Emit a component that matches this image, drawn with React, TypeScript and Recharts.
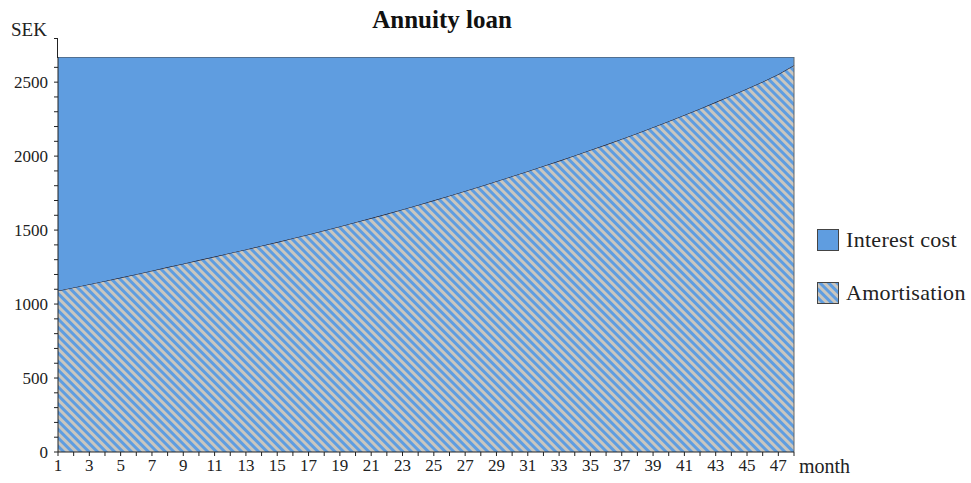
import { AreaChart, Area, XAxis, YAxis, ReferenceLine } from 'recharts'

const MONTHS = Array.from({ length: 48 }, (_, i) => i + 1)

// amortisation per month (SEK)
const AMORTISATION = [
    1090, 1112, 1134, 1156, 1179, 1202, 1226, 1250, 1273, 1297, 1321, 1345,
    1369, 1394, 1419, 1445, 1471, 1498, 1525, 1553, 1581, 1610, 1640, 1670,
    1701, 1732, 1764, 1797, 1830, 1864, 1898, 1933, 1968, 2004, 2041, 2078,
    2116, 2155, 2195, 2236, 2278, 2321, 2365, 2410, 2456, 2503, 2553, 2615,
]

// interest cost per month (SEK)
const INTEREST = [
    1580, 1558, 1536, 1514, 1491, 1468, 1444, 1420, 1397, 1373, 1349, 1325,
    1301, 1276, 1251, 1225, 1199, 1172, 1145, 1117, 1089, 1060, 1030, 1000,
    969, 938, 906, 873, 840, 806, 772, 737, 702, 666, 629, 592,
    554, 515, 475, 434, 392, 349, 305, 260, 214, 167, 117, 55,
]

const Y_TICKS = Array.from({ length: 27 }, (_, i) => i * 100)

const data = MONTHS.map((m, i) => ({
    month: m,
    amortisation: AMORTISATION[i],
    interest: INTEREST[i],
}))

const BLUE = '#5f9de0'
const GREY = '#c9c6bf'
const FONT = '"Liberation Serif", "DejaVu Serif", serif'

function Stripes({ id }: { id: string }) {
    return (
        <pattern id={id} width="6" height="6" patternUnits="userSpaceOnUse" patternTransform="rotate(-45)">
            <rect x="0" y="0" width="6" height="6" fill={GREY} />
            <rect x="0" y="0" width="3" height="6" fill={BLUE} />
        </pattern>
    )
}

function LegendBox() {
    return (
        <div
            style={{
                position: 'absolute',
                left: 817,
                top: 226,
                fontFamily: FONT,
                fontSize: 22,
                letterSpacing: 0.3,
                color: '#222',
            }}>
            <div style={{ display: 'flex', alignItems: 'center', height: 28, marginBottom: 25 }}>
                <svg width="22" height="22" style={{ marginRight: 7 }}>
                    <rect x="0.5" y="0.5" width="21" height="21" fill={BLUE} stroke="#444" />
                </svg>
                Interest cost
            </div>
            <div style={{ display: 'flex', alignItems: 'center', height: 28 }}>
                <svg width="22" height="22" style={{ marginRight: 7 }}>
                    <defs>
                        <Stripes id="legendStripes" />
                    </defs>
                    <rect x="0.5" y="0.5" width="21" height="21" fill="url(#legendStripes)" stroke="#444" />
                </svg>
                Amortisation
            </div>
        </div>
    )
}

export default function App() {
    return (
        <div style={{ position: 'relative', width: 971, height: 483, background: '#fff' }}>
            <style>{'body{margin:0}'}</style>
            <div
                style={{
                    position: 'absolute',
                    left: 292,
                    width: 300,
                    top: 6,
                    textAlign: 'center',
                    fontFamily: FONT,
                    fontWeight: 'bold',
                    fontSize: 25,
                    color: '#111',
                }}>
                Annuity loan
            </div>
            <div style={{ position: 'absolute', left: 11, top: 19, fontFamily: FONT, fontSize: 19, color: '#222' }}>
                SEK
            </div>
            <div style={{ position: 'absolute', left: 799, top: 455, fontFamily: FONT, fontSize: 20, color: '#222' }}>
                month
            </div>
            {/* axis stub above the plot frame */}
            <div style={{ position: 'absolute', left: 57, top: 38, width: 1, height: 20, background: '#222' }} />
            <div style={{ position: 'absolute', left: 54, top: 38, width: 4, height: 1, background: '#222' }} />
            <LegendBox />
            <AreaChart width={971} height={483} data={data} margin={{ top: 57, right: 177, bottom: 0, left: 8 }}>
                <defs>
                    <Stripes id="amortStripes" />
                </defs>
                <XAxis
                    dataKey="month"
                    type="number"
                    domain={[1, 48]}
                    ticks={MONTHS}
                    interval={0}
                    tickFormatter={(v: number) => (v % 2 === 1 ? String(v) : '')}
                    height={31}
                    tickSize={4}
                    tickMargin={3}
                    stroke="#222"
                    tick={{ fill: '#222', fontSize: 17, fontFamily: FONT }}
                />
                <YAxis
                    type="number"
                    domain={[0, 2670]}
                    ticks={Y_TICKS}
                    interval={0}
                    tickFormatter={(v: number) => (v % 500 === 0 ? String(v) : '')}
                    width={50}
                    tickSize={4}
                    tickMargin={6}
                    stroke="#222"
                    tick={{ fill: '#222', fontSize: 17, fontFamily: FONT }}
                    allowDataOverflow
                />
                <Area
                    type="linear"
                    dataKey="amortisation"
                    stackId="a"
                    stroke="#223"
                    strokeWidth={1.2}
                    fill="url(#amortStripes)"
                    fillOpacity={1}
                    isAnimationActive={false}
                />
                <Area
                    type="linear"
                    dataKey="interest"
                    stackId="a"
                    stroke="#444"
                    strokeWidth={1.2}
                    fill={BLUE}
                    fillOpacity={1}
                    isAnimationActive={false}
                />
                <ReferenceLine x={48} stroke="#666" strokeWidth={1} />
            </AreaChart>
        </div>
    )
}
